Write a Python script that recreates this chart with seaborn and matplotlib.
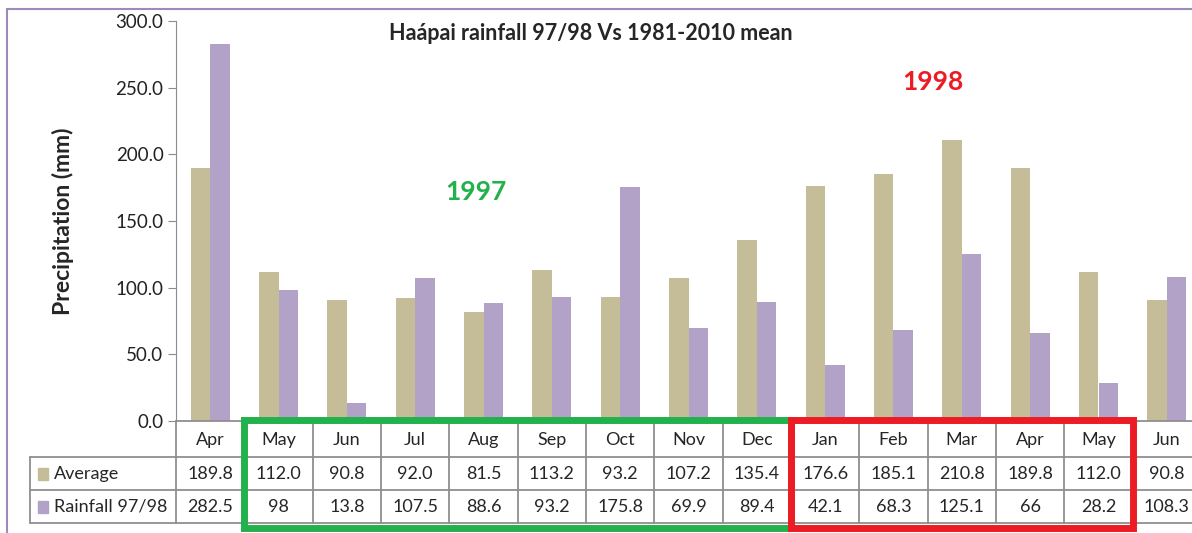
import numpy as np
import pandas as pd
import seaborn as sns
import matplotlib.pyplot as plt
import matplotlib.transforms as mtransforms
from matplotlib.patches import Rectangle

months = ['Apr', 'May', 'Jun', 'Jul', 'Aug', 'Sep', 'Oct', 'Nov', 'Dec',
          'Jan', 'Feb', 'Mar', 'Apr', 'May', 'Jun']
average = [189.8, 112.0, 90.8, 92.0, 81.5, 113.2, 93.2, 107.2, 135.4,
           176.6, 185.1, 210.8, 189.8, 112.0, 90.8]
rainfall = [282.5, 98, 13.8, 107.5, 88.6, 93.2, 175.8, 69.9, 89.4,
            42.1, 68.3, 125.1, 66, 28.2, 108.3]
series_names = ['Average', 'Rainfall 97/98']
colors = ['#C4BD97', '#B3A2C7']

sns.set_style('white')
plt.rcParams['font.family'] = ['Lato', 'DejaVu Sans']

df = pd.DataFrame({
    'pos': list(range(len(months))) * 2,
    'value': average + rainfall,
    'series': [series_names[0]] * len(months) + [series_names[1]] * len(months),
})

W, H = 1192, 533
fig = plt.figure(figsize=(W / 100, H / 100), dpi=100)
ax = fig.add_axes([176 / W, 1 - 421 / H, (1201 - 176) / W, 400 / H])

sns.barplot(data=df, x='pos', y='value', hue='series', palette=colors,
            width=0.57, gap=0, linewidth=0, saturation=1, legend=False, ax=ax)

ax.set_xlim(-0.5, len(months) - 0.5)
ax.set_ylim(0, 300)
ax.set_yticks(np.arange(0, 301, 50))
ax.set_yticklabels([f'{v:.1f}' for v in np.arange(0, 301, 50)], fontsize=13.5, color='#222222')
ax.set_xticks([])
ax.set_xlabel('')
ax.set_ylabel('Precipitation (mm)', fontsize=16.5, fontweight='bold', labelpad=30)
for s in ['top', 'right', 'bottom']:
    ax.spines[s].set_visible(False)
ax.spines['left'].set_color('#8c8c8c')
ax.tick_params(axis='y', length=6, color='#8c8c8c', left=True, pad=3)

ax.set_title('Haápai rainfall 97/98 Vs 1981-2010 mean', fontsize=15.5, fontweight='bold',
             x=(591 - 176) / (1201 - 176), y=1.0, pad=-14)

# data table under the axis (x in data units, y in figure pixels)
tr = mtransforms.blended_transform_factory(ax.transData, fig.transFigure)
fy = lambda py: 1 - py / H
grid = dict(color='#8f8f8f', lw=1.3, transform=tr, clip_on=False)
rows_y = [421, 457, 490, 523]
n = len(months)
xl = ax.transData.inverted().transform((30, 0))[0]
ax.plot([-0.5, n - 0.5], [fy(421)] * 2, **grid)
for py in rows_y[1:]:
    ax.plot([xl, n - 0.5], [fy(py)] * 2, **grid)
for i in range(n + 1):
    ax.plot([i - 0.5] * 2, [fy(421), fy(523)], **grid)
ax.plot([xl] * 2, [fy(457), fy(523)], **grid)

for i, m in enumerate(months):
    ax.text(i, fy(440), m, transform=tr, ha='center', va='center', fontsize=13)
    ax.text(i, fy(474), f'{average[i]:.1f}', transform=tr, ha='center', va='center', fontsize=13)
    ax.text(i, fy(507), f'{rainfall[i]:g}', transform=tr, ha='center', va='center', fontsize=13)

for j, (name, c) in enumerate(zip(series_names, colors)):
    cy = [474, 507][j]
    fig.patches.append(Rectangle((38 / W, fy(cy + 6)), 10 / W, 12 / H, color=c,
                                 transform=fig.transFigure))
    fig.text(54 / W, fy(cy), name, ha='left', va='center', fontsize=13)

# year boxes
for (a, b, c) in [(0.5, 8.5, '#22B14C'), (8.5, 13.5, '#ED1C24')]:
    ax.add_patch(Rectangle((a, fy(528)), b - a, (528 - 420) / H, fill=False,
                           edgecolor=c, lw=5, transform=tr, clip_on=False, zorder=5))

fig.text(476 / W, fy(192), '1997', color='#22B14C', fontsize=19, fontweight='bold',
         ha='center', va='center')
fig.text(933 / W, fy(82), '1998', color='#ED1C24', fontsize=19, fontweight='bold',
         ha='center', va='center')

# chart frame
fig.patches.append(Rectangle((7 / W, -0.1), 1.2, fy(9) + 0.1, fill=False,
                             edgecolor='#9D8BBB', lw=1.5, transform=fig.transFigure))

fig.savefig('out.png', dpi=100)
